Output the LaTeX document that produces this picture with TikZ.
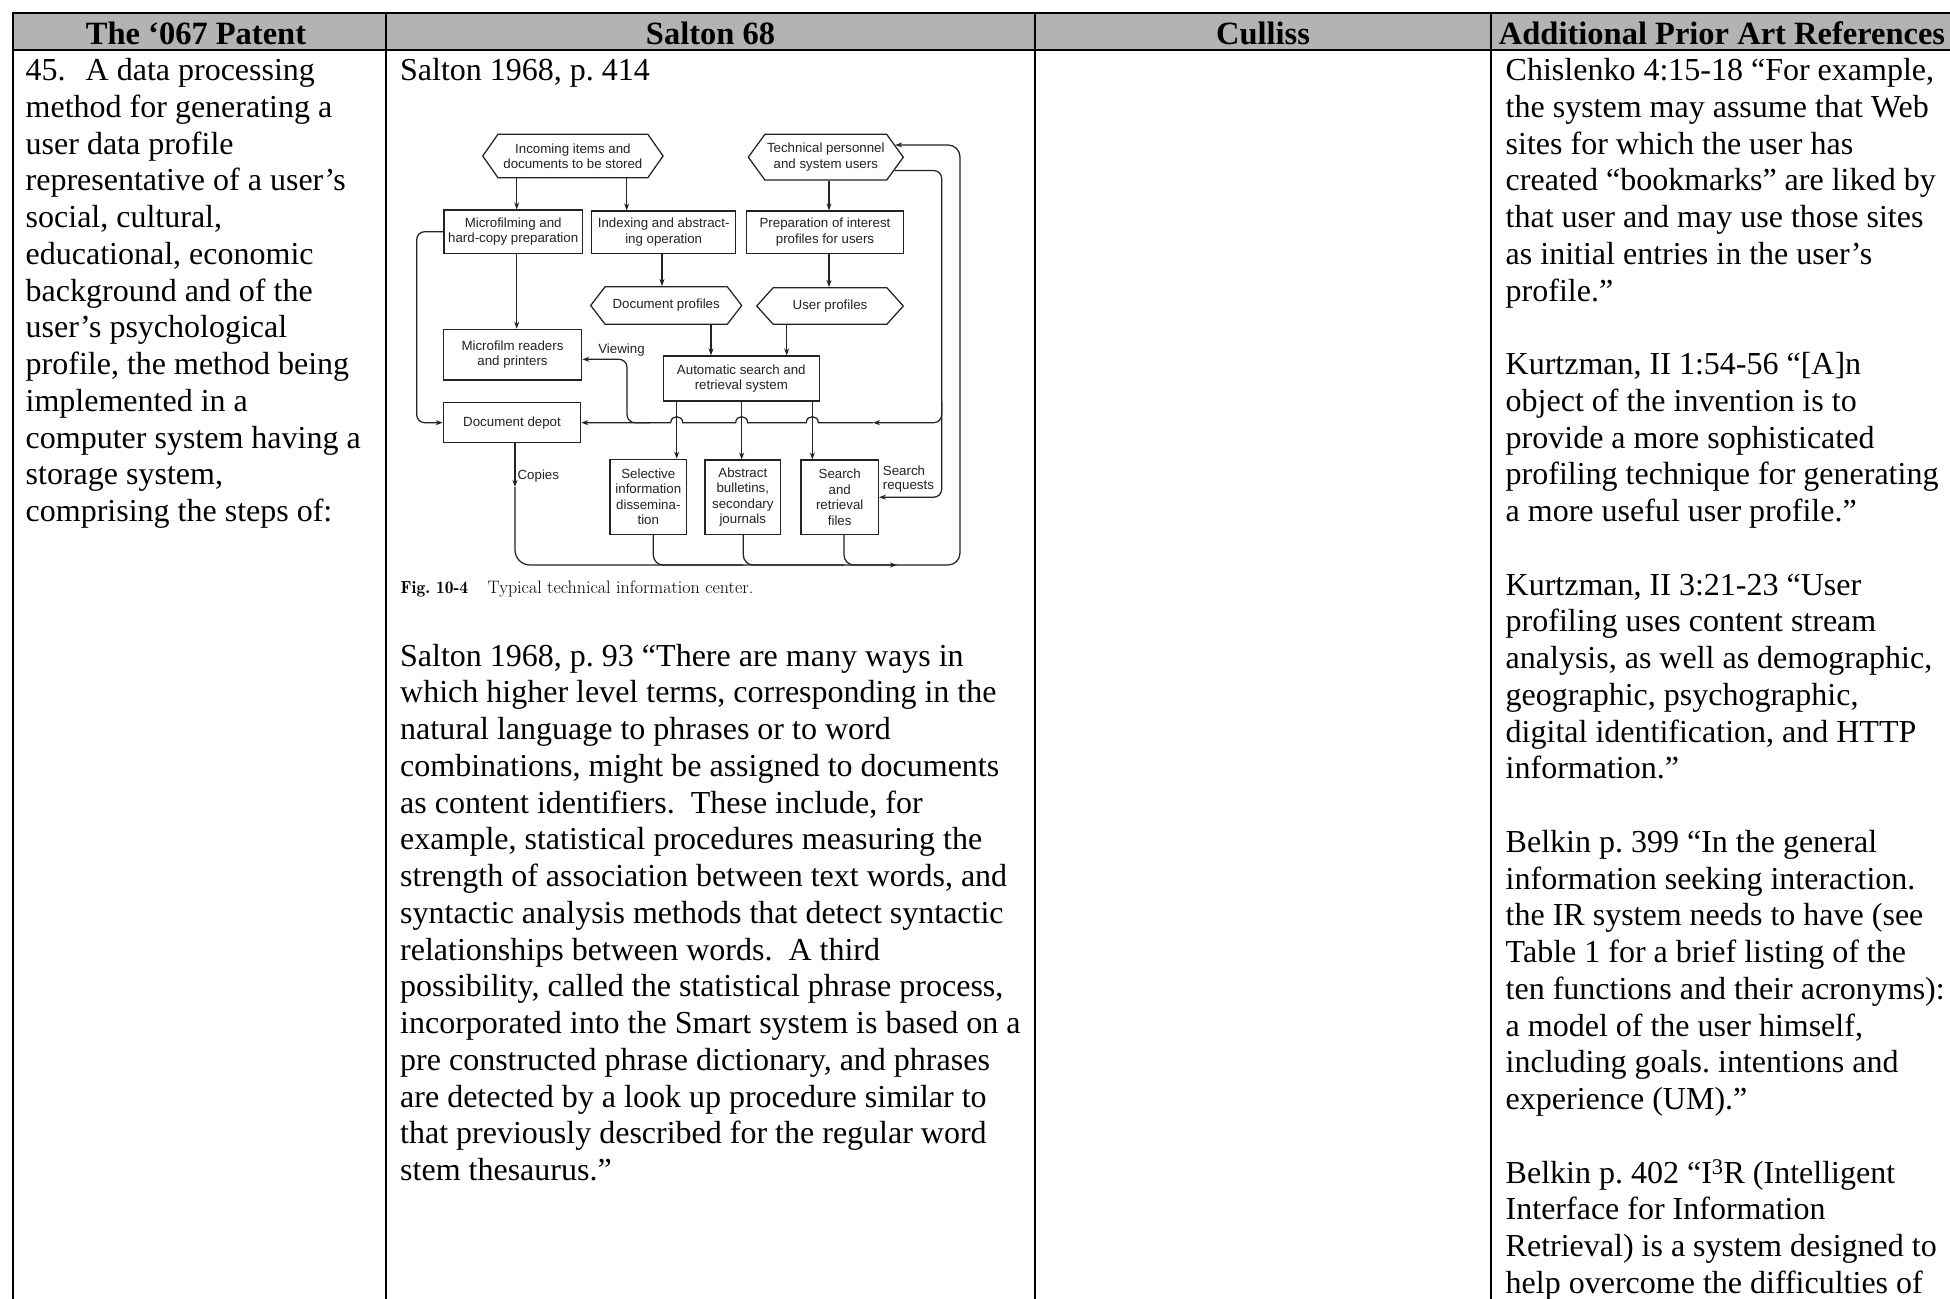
\documentclass[tikz,border=0pt]{standalone}
\usepackage{fontspec}
\setmainfont{Liberation Serif}
\newfontfamily\figfont{Liberation Sans}
\usetikzlibrary{arrows.meta,shapes.symbols}
\definecolor{hdrgray}{RGB}{179,179,179}
\definecolor{ink}{RGB}{35,35,35}
\frenchspacing
\tikzset{
  tablerule/.style={line width=2pt, draw=black, line cap=rect},
  hdrtext/.style={anchor=base, inner sep=0pt, font=\fontsize{32.5}{37}\selectfont\bfseries},
  bodytext/.style={anchor=base west, inner sep=0pt, font=\fontsize{32}{36.75}\selectfont},
  figbox/.style={draw=ink, line width=1.25pt, rectangle, inner sep=0pt, align=center,
    font=\figfont\fontsize{13.3}{15.5}\selectfont, text=ink},
  fighex/.style={figbox, signal, signal to=west and east, signal from=nowhere},
  arr/.style={draw=ink, line width=1.25pt, -{Stealth[length=7pt,width=5pt]}},
  ln/.style={draw=ink, line width=1.25pt},
  flabel/.style={inner sep=0pt, font=\figfont\fontsize{13.3}{14}\selectfont, text=ink},
}
\begin{document}
\begin{tikzpicture}[x=1pt,y=-1pt]
\useasboundingbox (0,0) rectangle (1950,1298);
\fill[white] (0,0) rectangle (1950,1298);
% ---------- table ----------
\fill[hdrgray] (13,13) rectangle (1950,50.5);
\draw[tablerule] (1952,13) -- (13,13) -- (13,1300);
\draw[tablerule] (13,50.5) -- (1952,50.5);
\draw[tablerule] (386,13) -- (386,1300);
\draw[tablerule] (1035,13) -- (1035,1300);
\draw[tablerule] (1491,13) -- (1491,1300);
\node[hdrtext] (h1) at (196,44.5) {The ‘067 Patent};
\node[hdrtext] (h2) at (710.5,44.5) {Salton 68};
\node[hdrtext] (h3) at (1263,44.5) {Culliss};
\node[hdrtext] (h4) at (1722,44.5) {Additional Prior Art References};
% column 1
\node[bodytext] (c1) at (25.5,80.7) {\parbox[t]{360pt}{\raggedright
45.\hspace{20pt}A data processing\\
method for generating a\\
user data profile\\
representative of a user’s\\
social, cultural,\\
educational, economic\\
background and of the\\
user’s psychological\\
profile, the method being\\
implemented in a\\
computer system having a\\
storage system,\\
comprising the steps of:}};
% column 2
\node[bodytext] (c2a) at (400,80.7) {Salton 1968, p. 414};
\node[bodytext] (c2b) at (400,666) {\parbox[t]{640pt}{\raggedright
Salton 1968, p. 93 “There are many ways in\\
which higher level terms, corresponding in the\\
natural language to phrases or to word\\
combinations, might be assigned to documents\\
as content identifiers.\ \ These include, for\\
example, statistical procedures measuring the\\
strength of association between text words, and\\
syntactic analysis methods that detect syntactic\\
relationships between words.\ \ A third\\
possibility, called the statistical phrase process,\\
incorporated into the Smart system is based on a\\
pre constructed phrase dictionary, and phrases\\
are detected by a look up procedure similar to\\
that previously described for the regular word\\
stem thesaurus.”}};
% column 4
\node[bodytext] (c4) at (1505.5,80.7) {\parbox[t]{600pt}{\raggedright
Chislenko 4:15-18 “For example,\\
the system may assume that Web\\
sites for which the user has\\
created “bookmarks” are liked by\\
that user and may use those sites\\
as initial entries in the user’s\\
profile.”\\ \mbox{}\\
Kurtzman, II 1:54-56 “[A]n\\
object of the invention is to\\
provide a more sophisticated\\
profiling technique for generating\\
a more useful user profile.”\\ \mbox{}\\
Kurtzman, II 3:21-23 “User\\
profiling uses content stream\\
analysis, as well as demographic,\\
geographic, psychographic,\\
digital identification, and HTTP\\
information.”\\ \mbox{}\\
Belkin p. 399 “In the general\\
information seeking interaction.\\
the IR system needs to have (see\\
Table 1 for a brief listing of the\\
ten functions and their acronyms):\\
a model of the user himself,\\
including goals. intentions and\\
experience (UM).”\\ \mbox{}\\
Belkin p. 402 “I\textsuperscript{3}R (Intelligent\\
Interface for Information\\
Retrieval) is a system designed to\\
help overcome the difficulties of}};
% ---------- figure ----------
\node[fighex, minimum width=180.3pt, minimum height=43.4pt, signal pointer angle=110] (inc) at (572.9,156) {Incoming items and\\documents to be stored};
\node[fighex, minimum width=155pt, minimum height=45.7pt, signal pointer angle=108] (tech) at (825.8,157.2) {Technical personnel\\and system users};
\node[figbox, minimum width=138.3pt, minimum height=43.3pt] (mfp) at (513.2,231.7) {Microfilming and\\hard-copy preparation};
\node[figbox, minimum width=144pt, minimum height=42.3pt] (idx) at (663.7,232.2) {Indexing and abstract-\\ing operation};
\node[figbox, minimum width=156.6pt, minimum height=42.3pt] (prep) at (825,232.2) {Preparation of interest\\profiles for users};
\node[fighex, minimum width=151pt, minimum height=37.6pt, signal pointer angle=105] (docp) at (666.2,305.5) {Document profiles};
\node[fighex, minimum width=146.6pt, minimum height=36.6pt, signal pointer angle=96] (userp) at (830,306) {User profiles};
\node[figbox, minimum width=138.4pt, minimum height=50.7pt] (mrp) at (512.5,354.7) {Microfilm readers\\and printers};
\node[figbox, minimum width=156pt, minimum height=45pt] (auto) at (741.3,378.5) {Automatic search and\\retrieval system};
\node[figbox, minimum width=137.4pt, minimum height=40pt] (depot) at (512,422.7) {Document depot};
\node[figbox, minimum width=76.7pt, minimum height=75pt] (sdi) at (648.3,496.8) {Selective\\information\\dissemina-\\tion};
\node[figbox, minimum width=75.7pt, minimum height=74.3pt] (abs) at (742.8,497.2) {Abstract\\bulletins,\\secondary\\journals};
\node[figbox, minimum width=77.3pt, minimum height=74.3pt] (srf) at (839.7,497.2) {Search\\and\\retrieval\\files};
% labels
\node[flabel] (lview) at (621.5,350.5) {Viewing};
\node[flabel] (lcopies) at (538.3,476) {Copies};
\node[flabel, anchor=west, align=left] (lsreq) at (882.7,478.7) {Search\\requests};
% caption
\node[anchor=base west, inner sep=0pt, font=\fontfamily{lmr}\fontsize{17.5}{19}\selectfont\bfseries] (capfig) at (400.5,593) {Fig. 10-4};
\node[anchor=base west, inner sep=0pt, font=\fontfamily{lmr}\fontsize{18}{20}\selectfont] (captext) at (487.5,593) {Typical technical information center.};
% column coordinates
\coordinate (xA) at (516.7,0);
\coordinate (xB) at (626.7,0);
\coordinate (xC) at (662,0);
\coordinate (xD) at (711,0);
\coordinate (xE) at (786.7,0);
\coordinate (xF) at (829,0);
\coordinate (xG) at (676.7,0);
\coordinate (xH) at (741.7,0);
\coordinate (xI) at (812.3,0);
\coordinate (xL) at (416.7,0);
\coordinate (xV) at (627,0);
\coordinate (xR) at (941.7,0);
\coordinate (xO) at (960,0);
\coordinate (xCp) at (515,0);
\coordinate (xS1) at (653.3,0);
\coordinate (xS2) at (743.3,0);
\coordinate (xS3) at (844,0);
% straight arrows
\draw[arr] (xA |- inc.south) -- (xA |- mfp.north);
\draw[arr] (xB |- inc.south) -- (xB |- idx.north);
\draw[arr] (xA |- mfp.south) -- (xA |- mrp.north);
\draw[arr] (xC |- idx.south) -- (xC |- docp.north);
\draw[arr] (xD |- docp.south) -- (xD |- auto.north);
\draw[arr] (xE |- userp.south) -- (xE |- auto.north);
\draw[arr] (xF |- tech.south) -- (xF |- prep.north);
\draw[arr] (xF |- prep.south) -- (xF |- userp.north);
\draw[arr] (xG |- auto.south) -- (xG |- sdi.north);
\draw[arr] (xH |- auto.south) -- (xH |- abs.north);
\draw[arr] (xI |- auto.south) -- (xI |- srf.north);
% left loop
\draw[arr, rounded corners=8pt] (mfp.west) -| (xL |- depot.west) -- (depot.west);
% inner right loop
\draw[arr, rounded corners=8pt] (tech.-11) -| (xR |- srf.east) -- (srf.east);
\coordinate (arrH) at (873,422.7);
\draw[arr, rounded corners=8pt] (xR |- auto.south) |- (arrH);
\draw[arr] (arrH) -- (818.3,422.7) .. controls (818.3,414.7) and (806.3,414.7) .. (806.3,422.7)
  -- (747.7,422.7) .. controls (747.7,414.7) and (735.7,414.7) .. (735.7,422.7)
  -- (682.7,422.7) .. controls (682.7,414.7) and (670.7,414.7) .. (670.7,422.7)
  -- (depot.east);
\coordinate (viewJ) at (650,422.7);
\coordinate (mrpIn) at ([yshift=-4.6pt]mrp.east);
\draw[arr, rounded corners=8pt] (viewJ) -| (xV |- mrpIn) -- (mrpIn);
% outer loop
\coordinate (cpArr) at (515,487);
\coordinate (bArr) at (897,565);
\draw[arr] (xCp |- depot.south) -- (cpArr);
\draw[arr, rounded corners=15pt] (cpArr) |- (bArr);
\draw[arr, rounded corners=12pt] (bArr) -| (xO |- tech.10) -- (tech.10);
\draw[ln, rounded corners=10pt] (xS1 |- sdi.south) |- (xS2 |- bArr);
\draw[ln, rounded corners=10pt] (xS2 |- abs.south) |- (xS3 |- bArr);
\draw[ln, rounded corners=10pt] (xS3 |- srf.south) |- (bArr);
\end{tikzpicture}
\end{document}
